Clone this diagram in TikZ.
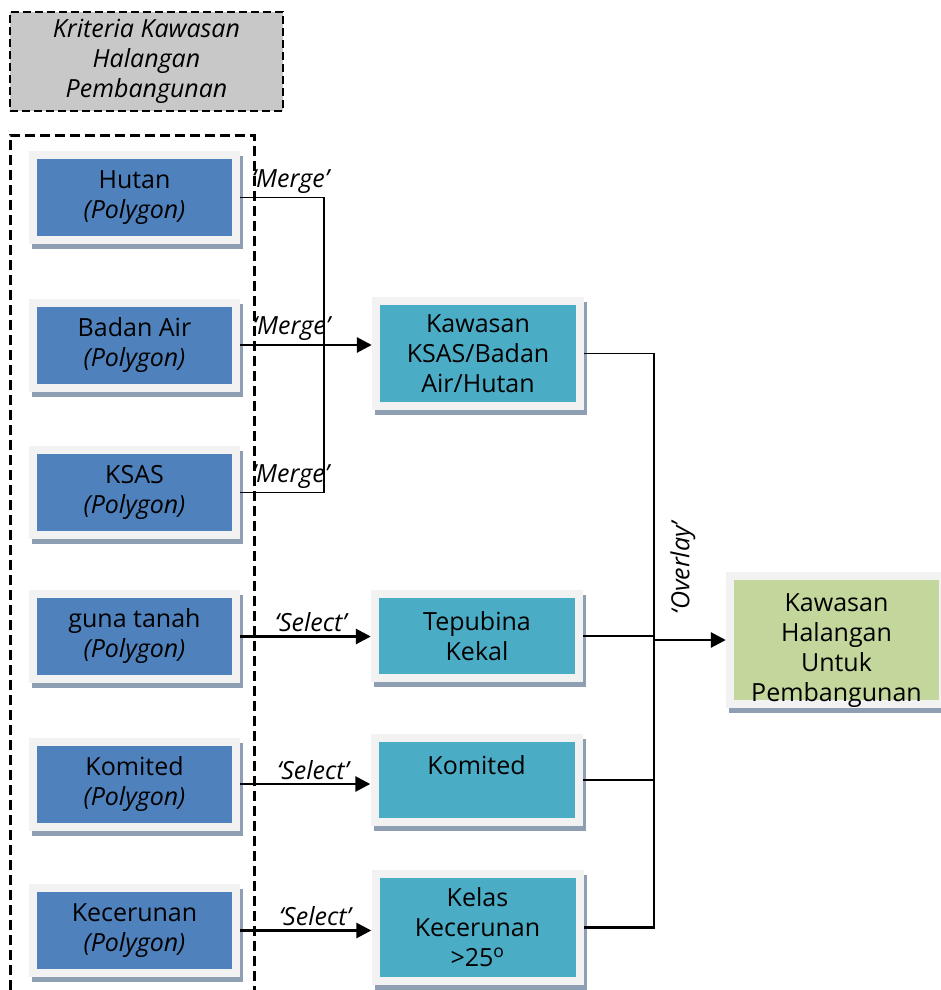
\documentclass[tikz,border=0pt]{standalone}
\usepackage{fontspec}
\setmainfont{Open Sans}
\usetikzlibrary{arrows.meta,shadows}
\definecolor{srcblue}{HTML}{4F81BD}
\definecolor{midteal}{HTML}{4BACC6}
\definecolor{resgreen}{HTML}{C3D69B}
\definecolor{framegray}{HTML}{F2F2F2}
\definecolor{shadegray}{HTML}{8F9FB3}
\definecolor{headgray}{HTML}{C8C8C8}
\tikzset{
  boxtxt/.style={font=\fontsize{25pt}{30pt}\selectfont, align=center},
  colbox/.style={boxtxt, fill=framegray, inner sep=0pt,
    drop shadow={shadow xshift=3pt, shadow yshift=-5pt, fill=shadegray, opacity=1},
    path picture={\fill[#1] ([shift={(8pt,8pt)}]path picture bounding box.south west)
      rectangle ([shift={(-8pt,-8pt)}]path picture bounding box.north east);}},
  srcbox/.style={colbox=srcblue, minimum width=211pt, minimum height=93pt},
  midbox/.style={colbox=midteal, minimum width=212pt},
  resbox/.style={colbox=resgreen, minimum width=221pt, minimum height=136pt},
  headbox/.style={boxtxt, font=\fontsize{25pt}{30pt}\selectfont\itshape, fill=headgray,
    draw, line width=2.5pt, dash pattern=on 8pt off 4pt, minimum width=273pt, minimum height=99pt},
  lbl/.style={font=\fontsize{25pt}{30pt}\selectfont\itshape, text=black, inner sep=3pt},
  thinline/.style={line width=1.3pt, black},
  thickline/.style={line width=2.8pt, black},
  arrowline/.style={thickline, -{Triangle[length=15pt,width=15pt]}}
}
\begin{document}
\begin{tikzpicture}[x=1pt, y=-1pt, line join=miter]
  \useasboundingbox (0,0) rectangle (941,990);
  % kotak tajuk dan kumpulan kriteria
  \node (kriteria) [headbox] at (146.5,61.5) {Kriteria Kawasan\\Halangan\\Pembangunan};
  \draw[line width=3pt, dash pattern=on 10pt off 5pt] (10,990) |- (254,135) -- (254,990);
  % data asal
  \foreach \nm/\y/\txt in {hutan/197.5/Hutan, badan/345/Badan Air, ksas/492.5/KSAS,
      guna/636.5/guna tanah, komsrc/784/Komited, cerun/930.5/Kecerunan}
    {\node (\nm) [srcbox] at (134.5,\y) {\txt\\\textit{(Polygon)}};};
  % hasil pemilihan
  \node (kawasan) [midbox, minimum height=113pt] at (478,353.5) {Kawasan\\KSAS/Badan\\Air/Hutan};
  \node (tepubina) [midbox, minimum height=92pt] at (477,636) {Tepubina\\Kekal};
  \node (komited) [midbox, minimum height=92pt] at (476.5,780) {Komited\\~};
  \node (kelas) [midbox, minimum height=115pt] at (477.5,927.5) {Kelas\\Kecerunan\\>25\textsuperscript{o}};
  \node (hasil) [resbox] at (836.5,640)
    {\raisebox{-17pt}[0pt][0pt]{\begin{tabular}{@{}c@{}}Kawasan\\Halangan\\Untuk\\Pembangunan\end{tabular}}};
  % merge
  \coordinate (gabung) at (324,345);
  \draw[thinline] (hutan.east) -- node[lbl, above, pos=0.6] (merge1) {‘Merge’} (hutan.east -| gabung) -- (gabung);
  \draw[thinline] (ksas.east) -- node[lbl, above, pos=0.6] (merge3) {‘Merge’} (ksas.east -| gabung) -- (gabung);
  \draw[arrowline] (badan.east) -- node[lbl, above, pos=0.39] (merge2) {‘Merge’} (badan.east -| kawasan.west);
  % select
  \draw[arrowline] (guna.east) -- node[lbl, above, pos=0.54] (sel1) {‘Select’} (guna.east -| tepubina.west);
  \draw[arrowline] (komsrc.east) -- node[lbl, above, pos=0.56] (sel2) {‘Select’} (komsrc.east -| komited.west);
  \draw[arrowline] (cerun.east) -- node[lbl, above, pos=0.57] (sel3) {‘Select’} (cerun.east -| kelas.west);
  % overlay
  \coordinate (simpang) at (654,640);
  \draw[thinline] (kawasan.east) -| (simpang);
  \draw[thinline] (tepubina.east) -- (tepubina.east -| simpang);
  \draw[thinline] (komited.east) -- (komited.east -| simpang);
  \draw[thickline] (kelas.east) -| (simpang);
  \draw[arrowline] (simpang) -- (simpang -| hasil.west);
  \node (overlay) [lbl, rotate=90] at (683,568) {‘Overlay’};
\end{tikzpicture}
\end{document}
